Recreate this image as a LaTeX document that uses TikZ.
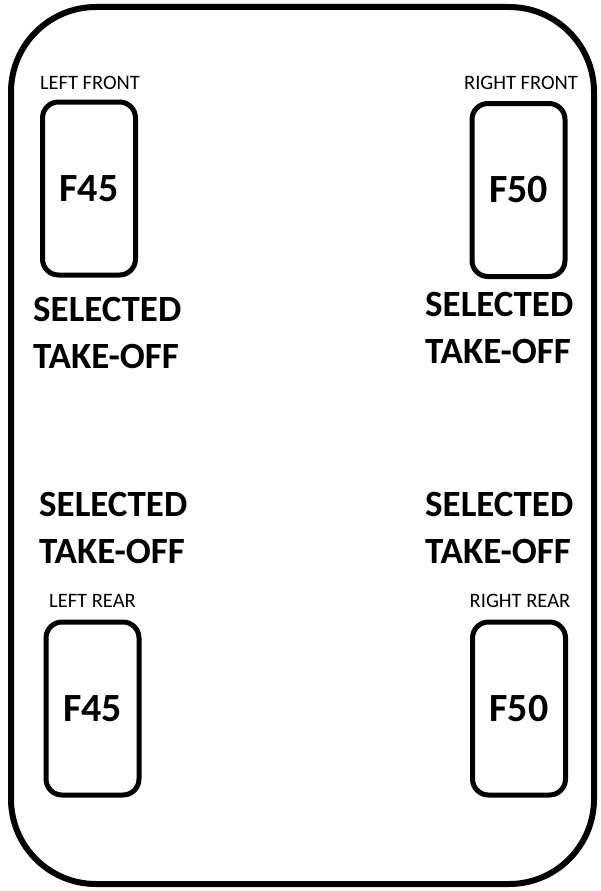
\documentclass[tikz,border=0pt]{standalone}
\usepackage{fontspec}
\setmainfont{Carlito}
\usetikzlibrary{positioning}
\tikzset{
  frame/.style  ={draw, line width=6pt, rounded corners=85pt},
  unitbox/.style={rectangle, draw, line width=5pt, rounded corners=16pt,
                  minimum width=93pt, minimum height=173pt, inner sep=0pt,
                  font=\fontsize{40}{48}\selectfont\bfseries},
  poslbl/.style ={anchor=base, inner sep=0pt, font=\fontsize{20.5}{24}\selectfont},
  modelbl/.style={anchor=base west, inner sep=0pt, align=left,
                  font=\fontsize{37}{47}\selectfont\bfseries}
}
\begin{document}
\begin{tikzpicture}[x=1pt, y=-1pt]
\useasboundingbox (0,0) rectangle (600,891);
\draw[frame] (11,7) rectangle (594,884);

% front pair
\node[unitbox] (lf) at (89,188.5) {F45};
\node[unitbox] (rf) at (518.5,190) {F50};
\node[poslbl] (lflbl) at (90,89) {LEFT FRONT};
\node[poslbl] (rflbl) at (521,89) {RIGHT FRONT};
\node[modelbl] (lfmode) at (33,368) {SELECTED\\TAKE-OFF};
\node[modelbl] (rfmode) at (425,363) {SELECTED\\TAKE-OFF};

% rear pair
\node[unitbox] (lr) at (92.5,708.5) {F45};
\node[unitbox] (rr) at (519,708.5) {F50};
\node[poslbl] (lrlbl) at (92.5,607) {LEFT REAR};
\node[poslbl] (rrlbl) at (520,607) {RIGHT REAR};
\node[modelbl] (lrmode) at (39,563) {SELECTED\\TAKE-OFF};
\node[modelbl] (rrmode) at (425,563) {SELECTED\\TAKE-OFF};
\end{tikzpicture}
\end{document}
